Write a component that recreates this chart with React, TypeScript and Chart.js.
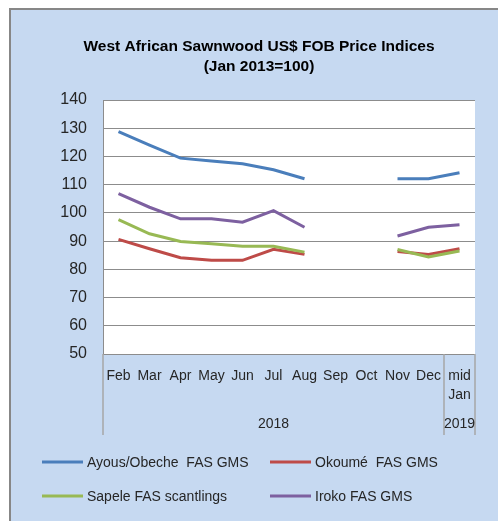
import React, { useEffect, useRef } from 'react';
import { Chart, registerables } from 'chart.js';
Chart.register(...registerables);

const titleLines = ['West African Sawnwood US$ FOB Price Indices', '(Jan 2013=100)'];
const months: (string | string[])[] = ['Feb', 'Mar', 'Apr', 'May', 'Jun', 'Jul', 'Aug', 'Sep', 'Oct', 'Nov', 'Dec', ['mid', 'Jan']];
const yearGroups = [
  { label: '2018', from: 0, to: 10 },
  { label: '2019', from: 11, to: 11 },
];
const yMin = 50;
const yMax = 140;
const yStep = 10;

const ayous = [128.8, 124, 119.4, 118.4, 117.4, 115.3, 112.1, null, null, 112.1, 112.1, 114.2];
const okoume = [90.6, 87.3, 84.1, 83.2, 83.2, 87.1, 85.3, null, null, 86.3, 85.3, 87.3];
const sapele = [97.6, 92.6, 89.9, 89.1, 88.2, 88.2, 86.1, null, null, 87.0, 84.4, 86.5];
const iroko = [106.8, 102, 97.9, 97.9, 96.7, 100.8, 94.9, null, null, 91.8, 94.9, 95.8];

const seriesNames = ['Ayous/Obeche  FAS GMS', 'Okoumé  FAS GMS', 'Sapele FAS scantlings', 'Iroko FAS GMS'];
const seriesColors = ['#4A7EBB', '#BE4B48', '#98B954', '#7D60A0'];

const FONT = '"Liberation Sans", Arial, sans-serif';
const TEXT = '#262626';
const AXIS = '#8C8C8C';

const decorPlugin = {
  id: 'decor',
  beforeDraw(chart: any) {
    const { ctx, chartArea } = chart;
    ctx.save();
    ctx.fillStyle = '#FFFFFF';
    ctx.fillRect(chartArea.left, chartArea.top, chartArea.right - chartArea.left, chartArea.bottom - chartArea.top);
    ctx.restore();
  },
  afterDraw(chart: any) {
    const { ctx, chartArea } = chart;
    const x = chart.scales.x;
    ctx.save();
    // multi-level category axis separators
    const bottom = chartArea.bottom + 81;
    ctx.strokeStyle = '#A6A6A6';
    ctx.lineWidth = 1.5;
    const seps = [chartArea.left];
    yearGroups.forEach((g) => seps.push(x.getPixelForValue(g.to + 0.5)));
    seps.forEach((sx) => {
      ctx.beginPath();
      ctx.moveTo(sx, chartArea.bottom);
      ctx.lineTo(sx, bottom);
      ctx.stroke();
    });
    // year labels
    ctx.fillStyle = TEXT;
    ctx.font = `14px ${FONT}`;
    ctx.textAlign = 'center';
    ctx.textBaseline = 'middle';
    yearGroups.forEach((g) => {
      const a = x.getPixelForValue(g.from - 0.5);
      const b = x.getPixelForValue(g.to + 0.5);
      ctx.fillText(g.label, (a + b) / 2, chartArea.bottom + 70);
    });
    // title
    ctx.font = `bold 15.5px ${FONT}`;
    ctx.fillStyle = '#000000';
    const cx = (chartArea.left + chartArea.right) / 2 - 30;
    titleLines.forEach((t, i) => ctx.fillText(t, cx, 37 + i * 20));
    // legend
    ctx.font = `14px ${FONT}`;
    ctx.textAlign = 'left';
    ctx.fillStyle = TEXT;
    const cols = [31, 259];
    const rows = [452, 486];
    seriesNames.forEach((name, i) => {
      const lx = cols[i % 2];
      const ly = rows[Math.floor(i / 2)];
      ctx.strokeStyle = seriesColors[i];
      ctx.lineWidth = 3;
      ctx.beginPath();
      ctx.moveTo(lx, ly);
      ctx.lineTo(lx + 41, ly);
      ctx.stroke();
      ctx.fillText(name, lx + 45, ly + 1);
    });
    ctx.restore();
  },
};

export default function App() {
  const ref = useRef<HTMLCanvasElement>(null);
  useEffect(() => {
    if (!ref.current) return;
    const data = [ayous, okoume, sapele, iroko];
    const chart = new Chart(ref.current, {
      type: 'line',
      data: {
        labels: months as any,
        datasets: data.map((d, i) => ({
          label: seriesNames[i],
          data: d,
          borderColor: seriesColors[i],
          backgroundColor: seriesColors[i],
          borderWidth: 3,
          pointRadius: 0,
          tension: 0,
          spanGaps: false,
          order: 4 - i,
        })),
      },
      options: {
        animation: false,
        responsive: false,
        maintainAspectRatio: false,
        layout: { padding: { top: 90, right: 23, left: 0, bottom: 0 } },
        plugins: { legend: { display: false }, title: { display: false }, tooltip: { enabled: false } },
        scales: {
          x: {
            offset: true,
            grid: { display: false, offset: true },
            border: { display: false },
            ticks: {
              autoSkip: false,
              maxRotation: 0,
              minRotation: 0,
              padding: 5,
              color: TEXT,
              font: { family: FONT, size: 14, lineHeight: 1.35 },
            },
            afterFit(scale: any) {
              scale.height = 167;
            },
          },
          y: {
            min: yMin,
            max: yMax,
            grid: { color: AXIS, lineWidth: 1, drawTicks: false },
            border: { display: true, color: AXIS, width: 1 },
            ticks: {
              stepSize: yStep,
              padding: 16,
              color: TEXT,
              font: { family: FONT, size: 16 },
            },
            afterFit(scale: any) {
              scale.width = 92;
            },
          },
        },
      },
      plugins: [decorPlugin],
    });
    return () => chart.destroy();
  }, []);
  return (
    <div
      style={{
        position: 'fixed',
        left: 9,
        top: 8,
        width: 489,
        height: 513,
        background: '#C6D9F1',
        borderTop: '2px solid #878787',
        borderLeft: '2px solid #878787',
        boxSizing: 'border-box',
      }}
    >
      <canvas ref={ref} width={487} height={511} style={{ display: 'block' }} />
    </div>
  );
}
